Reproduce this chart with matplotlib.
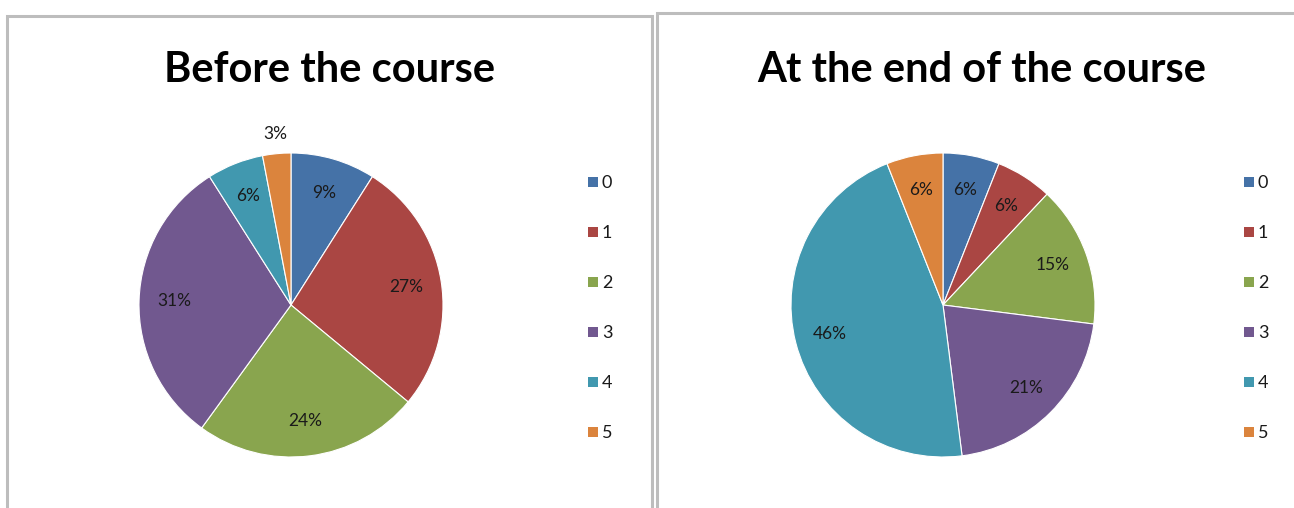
import matplotlib
matplotlib.use("Agg")
import math
import matplotlib.pyplot as plt
from matplotlib.patches import Rectangle

categories = ["0", "1", "2", "3", "4", "5"]
before_values = [9, 27, 24, 31, 6, 3]
after_values = [6, 6, 15, 21, 46, 6]
titles = ["Before the course", "At the end of the course"]
colors = ["#4572A7", "#AA4643", "#89A54E", "#71588F", "#4198AF", "#DB843D"]

plt.rcParams['font.family'] = ['Lato', 'DejaVu Sans']

W, H = 1294, 508
fig = plt.figure(figsize=(W / 100, H / 100), dpi=100)
fig.patch.set_facecolor("white")

def fx(x):
    return x / W

def fy(y):
    return 1 - y / H

# panel borders
fig.patches.append(Rectangle((fx(7), fy(540)), fx(645), fy(16) - fy(540),
                             transform=fig.transFigure, fill=False,
                             edgecolor="#BDBDBD", linewidth=2.2))
fig.patches.append(Rectangle((fx(657), fy(540)), fx(700), fy(13) - fy(540),
                             transform=fig.transFigure, fill=False,
                             edgecolor="#BDBDBD", linewidth=2.2))

panels = [
    dict(values=before_values, cx=291, cy=305, r=152, tx=330, leg_x=588),
    dict(values=after_values, cx=943, cy=305, r=152, tx=982, leg_x=1244),
]

for title, p in zip(titles, panels):
    cx, cy, r = p["cx"], p["cy"], p["r"]
    ax = fig.add_axes([fx(cx - r), fy(cy + r), fx(2 * r), fy(cy - r) - fy(cy + r)])
    vals = p["values"]
    wedges, _ = ax.pie(vals, colors=colors, startangle=90, counterclock=False,
                       wedgeprops=dict(edgecolor="white", linewidth=0.8),
                       radius=1.0)
    ax.set_xlim(-1, 1)
    ax.set_ylim(-1, 1)
    ax.set_aspect("equal")
    ax.axis("off")
    # data labels
    total = float(sum(vals))
    cum = 0.0
    for v in vals:
        mid = (cum + v / 2) / total
        ang = math.radians(90 - 360 * mid)
        d = 0.77
        if v <= 3:
            d = 1.13
        ax.text(d * math.cos(ang), d * math.sin(ang), f"{v}%",
                ha="center", va="center", fontsize=12.5, color="#1a1a1a",
                clip_on=False)
        cum += v
    fig.text(fx(p["tx"]), fy(70), title, ha="center", va="center",
             fontsize=30, fontweight="bold", color="black")
    # legend
    for i, (cat, col) in enumerate(zip(categories, colors)):
        y = 182 + 50 * i
        fig.patches.append(Rectangle((fx(p["leg_x"]), fy(y + 5)), fx(10), fy(y - 5) - fy(y + 5),
                                     transform=fig.transFigure, facecolor=col,
                                     edgecolor="none"))
        fig.text(fx(p["leg_x"] + 14), fy(y + 1), cat, ha="left", va="center",
                 fontsize=13, color="#1a1a1a")

fig.savefig("out.png", dpi=100, facecolor="white")
